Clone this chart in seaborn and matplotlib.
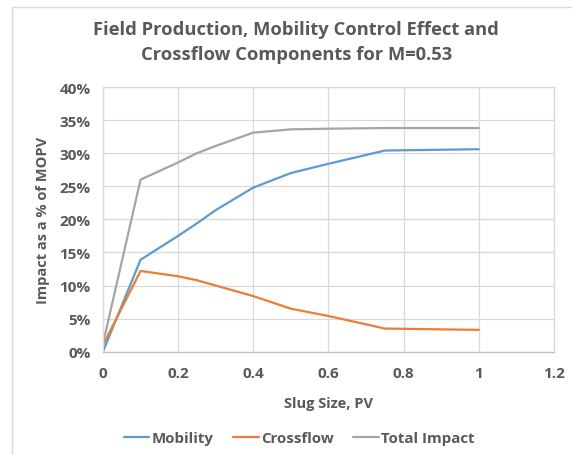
import matplotlib
matplotlib.use("Agg")
import matplotlib.pyplot as plt
from matplotlib.lines import Line2D
from matplotlib.ticker import PercentFormatter, MultipleLocator
import seaborn as sns
import pandas as pd

slug_size = [0, 0.1, 0.2, 0.25, 0.3, 0.4, 0.5, 0.6, 0.75, 1.0]
mobility = [0.0, 13.9, 17.5, 19.4, 21.4, 24.8, 27.0, 28.4, 30.4, 30.6]
crossflow = [1.0, 12.2, 11.4, 10.8, 10.0, 8.4, 6.5, 5.4, 3.5, 3.3]
total_impact = [1.2, 26.0, 28.6, 30.0, 31.1, 33.1, 33.6, 33.7, 33.8, 33.8]

series_names = ["Mobility", "Crossflow", "Total Impact"]
series_colors = ["#5B9BD5", "#ED7D31", "#A5A5A5"]

df = pd.DataFrame({
    "Slug Size, PV": slug_size * 3,
    "Impact": [v / 100 for v in mobility + crossflow + total_impact],
    "Series": [n for n in series_names for _ in slug_size],
})

sns.set_theme(style="white")
plt.rcParams["font.family"] = ["Open Sans", "DejaVu Sans"]
text_color = "#595959"

fig = plt.figure(figsize=(5.72, 4.56), dpi=100)
ax = fig.add_axes([0.180, 0.2265, 0.7885, 0.5805])

sns.lineplot(data=df, x="Slug Size, PV", y="Impact", hue="Series",
             palette=dict(zip(series_names, series_colors)),
             linewidth=1.6, ax=ax, legend=False, sort=False)

ax.set_xlim(0, 1.2)
ax.set_ylim(0, 0.40)
ax.yaxis.set_major_locator(MultipleLocator(0.05))
ax.yaxis.set_major_formatter(PercentFormatter(1.0, decimals=0))
ax.set_xticks([0, 0.2, 0.4, 0.6, 0.8, 1.0, 1.2])
ax.set_xticklabels(["0", "0.2", "0.4", "0.6", "0.8", "1", "1.2"])

ax.grid(True, color="#D9D9D9", linewidth=0.9)
for side, sp in ax.spines.items():
    sp.set_color("#D9D9D9")
    sp.set_linewidth(0.9)
ax.spines["bottom"].set_color("#BFBFBF")
ax.tick_params(axis="y", length=0, labelsize=11, labelcolor=text_color, pad=9)
ax.tick_params(axis="x", length=0, labelsize=11, labelcolor=text_color, pad=10)
for lbl in ax.get_xticklabels() + ax.get_yticklabels():
    lbl.set_fontweight("bold")

ax.set_xlabel("Slug Size, PV", fontsize=10.5, fontweight="bold", color=text_color, labelpad=12)
ax.set_ylabel("Impact as a % of MOPV", fontsize=10.5, fontweight="bold", color=text_color, labelpad=7)

fig.text(0.518, 0.906, "Field Production, Mobility Control Effect and\nCrossflow Components for M=0.53",
         ha="center", va="center", fontsize=13.2, fontweight="bold", color=text_color,
         linespacing=1.5)

handles = [Line2D([0], [0], color=c, linewidth=1.6) for c in series_colors]
fig.legend(handles, series_names, loc="center", bbox_to_anchor=(0.523, 0.037), ncol=3,
           frameon=False, handlelength=1.7, handletextpad=0.15, columnspacing=1.3,
           prop={"size": 10.8, "weight": "bold"}, labelcolor=text_color)

# chart area border (top and left edges)
fig.add_artist(Line2D([12 / 572, 12 / 572], [0, 1 - 8 / 456], transform=fig.transFigure,
                      color="#D9D9D9", linewidth=1.0))
fig.add_artist(Line2D([12 / 572, 1], [1 - 8 / 456, 1 - 8 / 456], transform=fig.transFigure,
                      color="#D9D9D9", linewidth=1.0))

fig.savefig("out.png", dpi=100, facecolor="white")
